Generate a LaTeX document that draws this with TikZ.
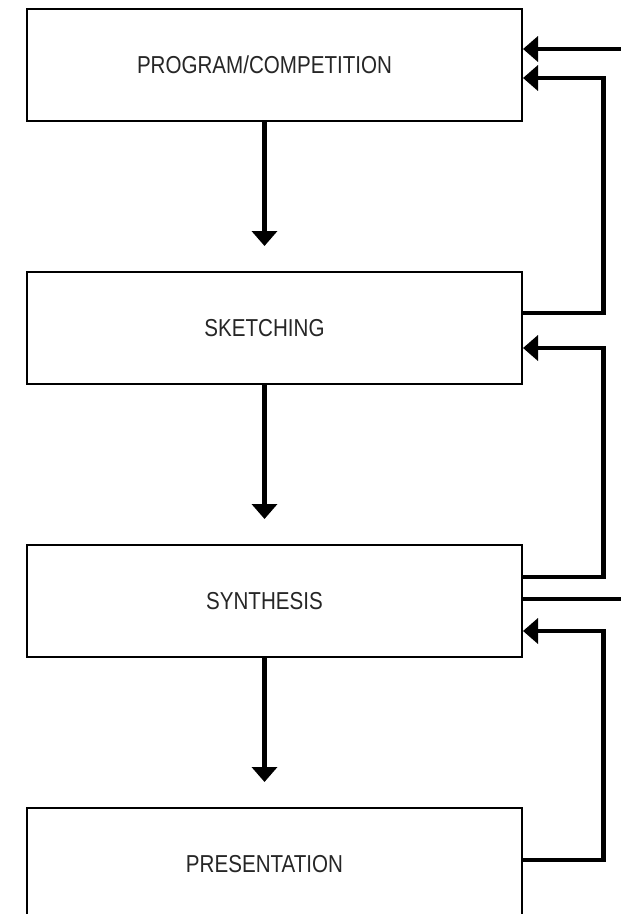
\documentclass[tikz,border=0pt]{standalone}
\usepackage{fontspec}
\setmainfont{Liberation Sans}[FakeStretch=0.84]
\usetikzlibrary{arrows.meta,calc}
\begin{document}
\begin{tikzpicture}[x=1pt,y=-1pt,
  box/.style={draw, line width=2pt, minimum width=495pt, minimum height=112pt, inner sep=0pt},
  lbl/.style={font=\fontsize{24.5}{29}\selectfont, text=black!85, inner sep=0pt},
  conn/.style={line width=4.5pt},
  arr/.style={conn, -{Triangle[width=25pt,length=15pt]}}]
\useasboundingbox[fill=white] (0,0) rectangle (621,914);
% boxes
\node[box] (b1) at (274.5,65) {};
\node[box] (b2) at (274.5,328) {};
\node[box] (b3) at (274.5,601) {};
\node[box] (b4) at (274.5,864) {};
% texts
\node[lbl] (t1) at (264.5,65) {PROGRAM/COMPETITION};
\node[lbl] (t2) at (264.5,328) {SKETCHING};
\node[lbl] (t3) at (264.5,601) {SYNTHESIS};
\node[lbl] (t4) at (264.5,864) {PRESENTATION};
% down arrows
\draw[arr] (b1.south -| t1) -- ($(b2.north -| t2)+(0,-25)$);
\draw[arr] (b2.south -| t2) -- ($(b3.north -| t3)+(0,-25)$);
\draw[arr] (b3.south -| t3) -- ($(b4.north -| t4)+(0,-25)$);
% right side
\coordinate (bus) at (603.5,0);
\coordinate (inR) at (626,49);
\coordinate (outR) at (626,599);
\draw[arr] (inR) -- (b1.east |- inR);
\draw[arr] (b2.east |- 0,313) -| (bus |- 0,78) -- (b1.east |- 0,78);
\draw[arr] (b3.east |- 0,577) -| (bus |- 0,348) -- (b2.east |- 0,348);
\draw[conn] (b3.east |- outR) -- (outR);
\draw[arr] (b4.east |- 0,860) -| (bus |- 0,631) -- (b3.east |- 0,631);
\end{tikzpicture}
\end{document}
